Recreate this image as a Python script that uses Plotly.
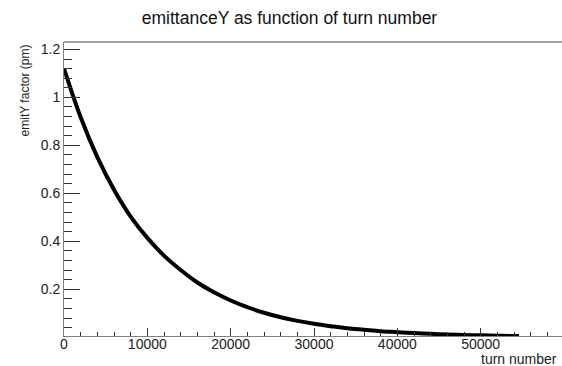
import plotly.graph_objects as go

# Vertical emittance factor sampled along the turn count
turns = [0, 2000, 4000, 6000, 8000, 10000, 12000, 14000, 16000, 18000,
         20000, 22000, 24000, 26000, 28000, 30000, 32000, 34000, 36000,
         38000, 40000, 42000, 44000, 46000, 48000, 50000, 52000, 54000, 54600]
emit_y = [1.120, 0.917, 0.751, 0.615, 0.503, 0.414, 0.340, 0.280, 0.228,
          0.187, 0.153, 0.125, 0.102, 0.083, 0.068, 0.056, 0.046, 0.037,
          0.031, 0.025, 0.021, 0.017, 0.014, 0.011, 0.009, 0.008, 0.006,
          0.005, 0.005]

x_tick_vals = [0, 10000, 20000, 30000, 40000, 50000]
x_tick_text = ["0", "10000", "20000", "30000", "40000", "50000"]
y_tick_vals = [0.2, 0.4, 0.6, 0.8, 1.0, 1.2]
y_tick_text = ["0.2", "0.4", "0.6", "0.8", "1", "1.2"]

W, H = 562, 366
left, right, top, bottom = 64, 0, 41.5, 30
plot_w = W - left - right
plot_h = H - top - bottom

font = "Liberation Sans, Arial, Helvetica, sans-serif"
line_col = "#808080"
tick_col = "#333333"

fig = go.Figure()
fig.add_trace(go.Scatter(
    x=turns, y=emit_y, mode="lines",
    line=dict(color="black", width=4, shape="spline"),
    showlegend=False, hoverinfo="skip",
))

fig.update_layout(
    width=W, height=H,
    margin=dict(l=left, r=right, t=top, b=bottom, pad=0),
    paper_bgcolor="white", plot_bgcolor="white",
    font=dict(family=font, color="#222222"),
    title=dict(text="emittanceY as function of turn number",
               x=289.5 / W, xref="container", xanchor="center",
               y=1 - 18 / H, yref="container", yanchor="middle",
               font=dict(size=17.5, family=font, color="#111111")),
    xaxis=dict(range=[0, 59760], showgrid=False, zeroline=False,
               showline=True, linecolor=line_col, linewidth=1,
               tickvals=x_tick_vals, ticktext=x_tick_text,
               ticks="inside", ticklen=8, tickcolor=tick_col, tickwidth=1,
               ticklabelstandoff=-5,
               tickfont=dict(size=14, family=font, color="#222222"),
               minor=dict(ticks="inside", ticklen=4, dtick=2000, tick0=0,
                          tickcolor=tick_col, tickwidth=1, showgrid=False)),
    yaxis=dict(range=[0.005, 1.231], showgrid=False, zeroline=False,
               showline=True, linecolor=line_col, linewidth=1,
               tickvals=y_tick_vals, ticktext=y_tick_text,
               ticks="inside", ticklen=16, tickcolor=tick_col, tickwidth=1,
               tickfont=dict(size=14, family=font, color="#222222"),
               minor=dict(ticks="inside", ticklen=8, dtick=0.04, tick0=0,
                          tickcolor=tick_col, tickwidth=1, showgrid=False)),
    shapes=[
        # top edge of the frame
        dict(type="line", xref="paper", yref="paper", x0=0, x1=1, y0=1, y1=1,
             line=dict(color=line_col, width=1.5)),
    ],
    annotations=[
        dict(text="emitY factor (pm)", textangle=-90,
             x=(25 - left) / plot_w, y=(H - bottom - 90) / plot_h,
             xref="paper", yref="paper", xanchor="center", yanchor="middle",
             showarrow=False, font=dict(size=12, family=font, color="#222222")),
        dict(text="turn number",
             x=(559 - left) / plot_w, y=(H - bottom - 359) / plot_h,
             xref="paper", yref="paper", xanchor="right", yanchor="middle",
             showarrow=False, font=dict(size=14, family=font, color="#222222")),
    ],
)

fig.write_html("out.html")
